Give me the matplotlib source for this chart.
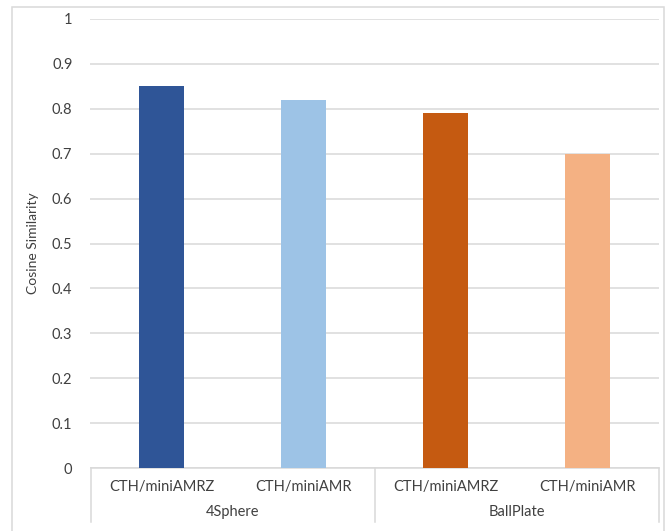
import matplotlib.pyplot as plt
import matplotlib.transforms as mtransforms
from matplotlib.patches import Rectangle
import numpy as np

plt.rcParams['font.family'] = ['Lato', 'DejaVu Sans']

datasets = ['4Sphere', 'BallPlate']
codes = ['CTH/miniAMRZ', 'CTH/miniAMR', 'CTH/miniAMRZ', 'CTH/miniAMR']
similarity = [0.85, 0.82, 0.79, 0.70]
colors = ['#2F5597', '#9DC3E6', '#C55A11', '#F4B183']
yticks = [0, 0.1, 0.2, 0.3, 0.4, 0.5, 0.6, 0.7, 0.8, 0.9, 1]
ytick_labels = ['0', '0.1', '0.2', '0.3', '0.4', '0.5', '0.6', '0.7', '0.8', '0.9', '1']

W, H = 665, 531
fig = plt.figure(figsize=(W / 100, H / 100), dpi=100)
ax = fig.add_axes([90.5 / W, 1 - 468 / H, (659 - 90.5) / W, (468 - 19) / H])

x = np.arange(len(codes))
ax.bar(x, similarity, width=0.317, color=colors, zorder=3)

ax.set_xlim(-0.5, len(codes) - 0.5)
ax.set_ylim(0, 1)
ax.set_yticks(yticks)
ax.set_yticklabels(ytick_labels, fontsize=10.5, color='#404040')
ax.tick_params(axis='y', length=0, pad=13)
ax.set_xticks([])
ax.grid(axis='y', color='#d9d9d9', linewidth=1.1, zorder=0)
for s in ax.spines.values():
    s.set_visible(False)
ax.set_ylabel('Cosine Similarity', fontsize=10, color='#404040', labelpad=9)

# two-level category axis under the plot
grid_col = '#d9d9d9'
trans = mtransforms.blended_transform_factory(ax.transData, fig.transFigure)
y_axis = 1 - 468 / H
y_bottom = 1 - 521.5 / H
ax.plot([-0.5, len(codes) - 0.5], [y_axis, y_axis], transform=trans,
        color=grid_col, linewidth=1.1, clip_on=False)
for xs in [-0.5, 1.5, 3.5]:
    ax.plot([xs, xs], [y_axis, y_bottom], transform=trans,
            color=grid_col, linewidth=1.1, clip_on=False)
for xi, lab in zip(x, codes):
    ax.text(xi, 1 - 487 / H, lab, transform=trans, ha='center', va='center',
            fontsize=10.5, color='#404040')
for gi, name in enumerate(datasets):
    ax.text(2 * gi + 0.5, 1 - 512 / H, name, transform=trans, ha='center',
            va='center', fontsize=10.5, color='#404040')

# chart border
fig.patches.append(Rectangle((12 / W, -0.02), (664 - 12) / W, 1.02 - 7 / H,
                             transform=fig.transFigure, fill=False,
                             edgecolor=grid_col, linewidth=1.1))

fig.savefig('out.png', dpi=100)
